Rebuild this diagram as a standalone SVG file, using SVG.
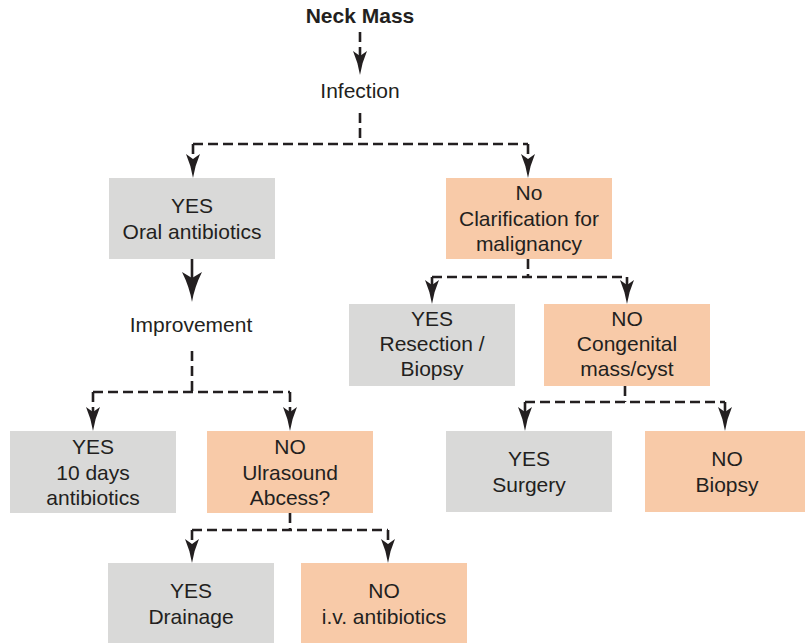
<svg xmlns="http://www.w3.org/2000/svg" width="805" height="643" viewBox="0 0 805 643">
<defs>
<style>
text{font-family:"Liberation Sans",Arial,sans-serif;font-size:21px;fill:#231f20;text-anchor:middle}
.title{font-weight:bold}
.gray{fill:#d9d9d8}
.org{fill:#f8caa8}
.c{fill:none;stroke:#231f20;stroke-width:2.6;stroke-dasharray:10 5}
</style>
<marker id="ah" viewBox="0 0 24 14" markerWidth="24" markerHeight="14" refX="5" refY="7" orient="auto" markerUnits="userSpaceOnUse">
<path d="M24,7 Q12,5.2 0,0 L5,7 L0,14 Q12,8.8 24,7 Z" fill="#231f20"/>
</marker>
<marker id="ahb" viewBox="0 0 30 20" markerWidth="30" markerHeight="20" refX="6" refY="10" orient="auto" markerUnits="userSpaceOnUse">
<path d="M30,10 Q15,7.5 0,0 L6,10 L0,20 Q15,12.5 30,10 Z" fill="#231f20"/>
</marker>
</defs>
<rect width="805" height="643" fill="#fff"/>
<g id="connectors">
<path class="c" d="M360,32 V56" marker-end="url(#ah)"/>
<path class="c" d="M360,113 V144"/>
<path class="c" d="M193,144 H528"/>
<path class="c" d="M193,144 V159" marker-end="url(#ah)"/>
<path class="c" d="M528,144 V159" marker-end="url(#ah)"/>
<path d="M192,259 V278" fill="none" stroke="#231f20" stroke-width="2.6" marker-end="url(#ahb)"/>
<path class="c" d="M192,351 V392"/>
<path class="c" d="M93,392 H290"/>
<path class="c" d="M93,392 V412" marker-end="url(#ah)"/>
<path class="c" d="M290,392 V412" marker-end="url(#ah)"/>
<path class="c" d="M290,513 V530"/>
<path class="c" d="M192,530 H388"/>
<path class="c" d="M192,530 V544" marker-end="url(#ah)"/>
<path class="c" d="M388,530 V544" marker-end="url(#ah)"/>
<path class="c" d="M528,259 V277"/>
<path class="c" d="M432,277 H627"/>
<path class="c" d="M432,277 V285" marker-end="url(#ah)"/>
<path class="c" d="M627,277 V285" marker-end="url(#ah)"/>
<path class="c" d="M625,386 V402"/>
<path class="c" d="M525,402 H725"/>
<path class="c" d="M525,402 V412" marker-end="url(#ah)"/>
<path class="c" d="M725,402 V412" marker-end="url(#ah)"/>
</g>
<g id="neck-mass"><text class="title" x="360" y="23">Neck Mass</text></g>
<g id="infection"><text x="360" y="98">Infection</text></g>
<g id="oral-antibiotics"><rect class="gray" x="109" y="178" width="166" height="81"/><text x="192" y="213">YES</text><text x="192" y="239">Oral antibiotics</text></g>
<g id="clarification"><rect class="org" x="446" y="178" width="166" height="81"/><text x="529" y="200">No</text><text x="529" y="226">Clarification for</text><text x="529" y="251">malignancy</text></g>
<g id="improvement"><text x="191" y="332">Improvement</text></g>
<g id="resection"><rect class="gray" x="349" y="304" width="166" height="82"/><text x="432" y="326">YES</text><text x="432" y="351">Resection /</text><text x="432" y="376">Biopsy</text></g>
<g id="congenital"><rect class="org" x="544" y="304" width="166" height="82"/><text x="627" y="326">NO</text><text x="627" y="351">Congenital</text><text x="627" y="376">mass/cyst</text></g>
<g id="ten-days"><rect class="gray" x="10" y="431" width="166" height="82"/><text x="93" y="454">YES</text><text x="93" y="480">10 days</text><text x="93" y="505">antibiotics</text></g>
<g id="ultrasound"><rect class="org" x="207" y="431" width="166" height="82"/><text x="290" y="454">NO</text><text x="290" y="480">Ulrasound</text><text x="290" y="505">Abcess?</text></g>
<g id="surgery"><rect class="gray" x="446" y="431" width="166" height="81"/><text x="529" y="466">YES</text><text x="529" y="492">Surgery</text></g>
<g id="biopsy"><rect class="org" x="645" y="431" width="160" height="81"/><text x="727" y="466">NO</text><text x="727" y="492">Biopsy</text></g>
<g id="drainage"><rect class="gray" x="108" y="563" width="166" height="80"/><text x="191" y="598">YES</text><text x="191" y="624">Drainage</text></g>
<g id="iv-antibiotics"><rect class="org" x="301" y="563" width="166" height="80"/><text x="384" y="598">NO</text><text x="384" y="624">i.v. antibiotics</text></g>
</svg>
